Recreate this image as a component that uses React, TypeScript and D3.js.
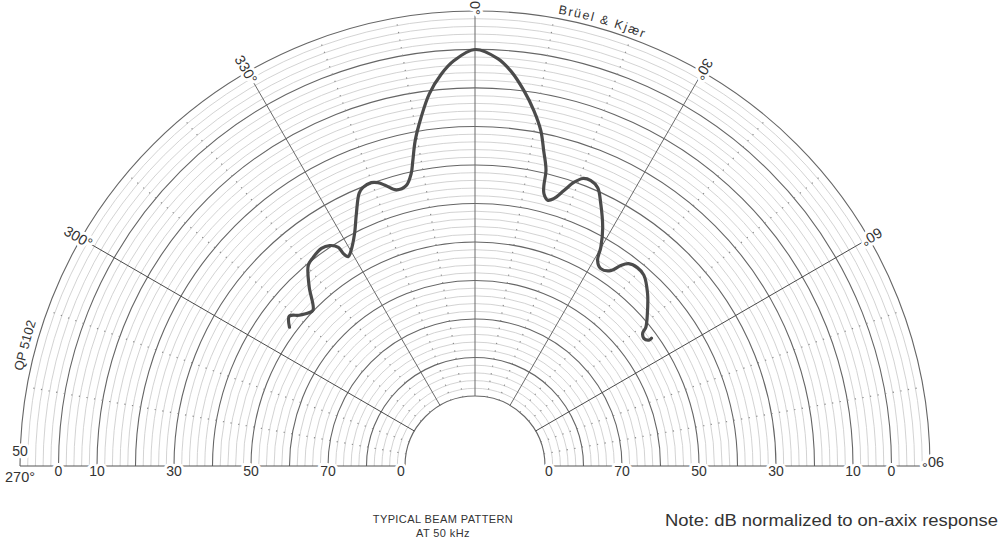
import React, { useEffect, useRef } from "react";
import * as d3 from "d3";

// beam pattern (angle in degrees clockwise from 0°, level in dB re on-axis)
const beamAngles = [
  -53.2, -51.1, -49.4, -47.5, -46.1, -42.8, -39.7, -37.8, -35.2, -33.4,
  -32.0, -31.8, -31.2, -29.9, -27.4, -25.2, -23.0, -21.9, -20.1, -18.9,
  -17.6, -15.9, -13.8, -12.3, -11.5, -10.4, -8.8, -7.0, -4.9, -3.0,
  0, 3.2, 5.2, 7.4, 9.4, 11.1, 12.3, 13.5, 13.8, 14.2,
  15.3, 16.4, 17.9, 19.2, 20.6, 22.1, 23.8, 25.6, 28.2, 29.9,
  30.8, 32.5, 34.8, 36.0, 37.2, 39.3, 41.5, 45.0, 48.5, 50.9,
  51.6, 52.9, 54.1, 54.1,
];
const beamLevels = [
  -24.0, -23.1, -24.0, -24.7, -24.9, -22.4, -20.2, -19.8, -19.5, -19.8,
  -20.6, -21.6, -22.3, -21.8, -20.1, -17.9, -15.6, -15.1, -14.9, -15.2,
  -15.9, -16.8, -16.6, -15.2, -13.6, -11.1, -8.3, -5.4, -3.0, -1.4,
  0, -1.1, -2.6, -4.9, -7.3, -9.7, -12.2, -14.6, -16.6, -17.6,
  -18.3, -17.9, -16.5, -15.1, -14.2, -14.1, -14.6, -16.3, -19.0, -21.3,
  -23.0, -23.7, -23.2, -21.9, -21.1, -20.8, -21.0, -22.4, -24.2, -25.5,
  -26.3, -26.6, -26.2, -25.8,
];

// polar paper
const angleTicks = [-90, -60, -30, 0, 30, 60, 90];
const angleTickLabels = ["270°", "300°", "330°", "0°", "30°", "60°", "90°"];
const scaleLevels = [0, -5, -15, -25, -35, -45];
const scaleLabels = ["0", "10", "30", "50", "70", "0"];
const rangeLabel = "50";

const font = "'Liberation Sans', Arial, Helvetica, sans-serif";

export default function App() {
  const ref = useRef<SVGSVGElement | null>(null);

  useEffect(() => {
    if (!ref.current) return;
    const width = 1000;
    const height = 541;
    const cx = 475;
    const cy = 466;
    const R = 455;
    const r0 = 70;

    const svg = d3.select(ref.current);
    svg.selectAll("*").remove();
    svg.attr("width", width).attr("height", height);

    svg.append("rect").attr("width", width).attr("height", height).attr("fill", "#fff");

    const rScale = d3.scaleLinear().domain([-45, 5]).range([r0, R]);
    const g = svg.append("g").attr("transform", `translate(${cx},${cy})`);

    // concentric half circles, 1 dB minor and 5 dB major
    const ringLevels = d3.range(-45, 5.01, 1);
    const half = (r: number) => {
      const p = d3.path();
      p.moveTo(-r, 0);
      p.arc(0, 0, r, Math.PI, 2 * Math.PI);
      return p.toString();
    };
    g.selectAll(".ring")
      .data(ringLevels)
      .join("path")
      .attr("class", "ring")
      .attr("d", d => half(rScale(d)))
      .attr("fill", "none")
      .attr("stroke", d => ((d + 45) % 5 === 0 ? "#666" : "#c8c8c8"))
      .attr("stroke-width", d => ((d + 45) % 5 === 0 ? 1.1 : 0.8));

    // spokes every 10 degrees, solid every 30
    const spokes = d3.range(-80, 81, 10);
    const rad = (deg: number) => (deg * Math.PI) / 180;
    g.selectAll(".spoke")
      .data(spokes)
      .join("line")
      .attr("class", "spoke")
      .attr("x1", d => r0 * Math.sin(rad(d)))
      .attr("y1", d => -r0 * Math.cos(rad(d)))
      .attr("x2", d => R * Math.sin(rad(d)))
      .attr("y2", d => -R * Math.cos(rad(d)))
      .attr("stroke", d => (d % 30 === 0 ? (Math.abs(d) === 60 ? "#4a4a4a" : "#6a6a6a") : "#8a8a8a"))
      .attr("stroke-width", d => (d % 30 === 0 ? 1 : 1.2))
      .attr("stroke-dasharray", d => (d % 30 === 0 ? null : "1.2 6.5"));

    // diameter line
    [-1, 1].forEach(side => {
      g.append("line")
        .attr("x1", side * r0)
        .attr("x2", side * R)
        .attr("y1", 0)
        .attr("y2", 0)
        .attr("stroke", "#555")
        .attr("stroke-width", 1);
    });

    // beam pattern
    const line = d3
      .lineRadial<number>()
      .angle(i => rad(beamAngles[i]))
      .radius(i => rScale(beamLevels[i]))
      .curve(d3.curveCatmullRom.alpha(0.5));
    g.append("path")
      .attr("d", line(d3.range(beamAngles.length)))
      .attr("fill", "none")
      .attr("stroke", "#4b4b4b")
      .attr("stroke-width", 3.2)
      .attr("stroke-linejoin", "round")
      .attr("stroke-linecap", "round");

    const halo = (sel: d3.Selection<SVGTextElement, any, any, any>) =>
      sel
        .attr("font-family", font)
        .attr("fill", "#333")
        .attr("stroke", "#fff")
        .attr("stroke-width", 6)
        .attr("stroke-linejoin", "round")
        .attr("paint-order", "stroke");

    // angle labels, written along the radius towards the centre
    angleTicks.forEach((a, i) => {
      const rr = R + 3;
      let x = rr * Math.sin(rad(a));
      let y = -rr * Math.cos(rad(a));
      if (a === -90) {
        x = -R + 0;
        y = 11;
      }
      if (a === 90) y = -4;
      g.append("text")
        .attr("transform", `translate(${x},${y}) rotate(${a + 90})`)
        .attr("text-anchor", "middle")
        .attr("dy", "0.35em")
        .attr("font-size", 14.5)
        .text(angleTickLabels[i])
        .call(halo);
    });

    g.append("text")
      .attr("x", -R)
      .attr("y", -10)
      .attr("text-anchor", "middle")
      .attr("font-size", 14)
      .text(rangeLabel)
      .call(halo);

    // scale along the diameter
    [-1, 1].forEach(side => {
      scaleLevels.forEach((lv, i) => {
        const rr = rScale(lv) + (lv === -45 ? 4 : 0);
        g.append("text")
          .attr("x", side * rr)
          .attr("y", 5)
          .attr("text-anchor", "middle")
          .attr("dy", "0.35em")
          .attr("font-size", 14)
          .text(scaleLabels[i])
          .call(halo);
      });
    });

    // maker's name and paper number along the rim
    const rimPath = (id: string, rr: number, a0: number, a1: number) => {
      const p = d3.path();
      p.moveTo(rr * Math.sin(rad(a0)), -rr * Math.cos(rad(a0)));
      p.arc(0, 0, rr, rad(a0 - 90), rad(a1 - 90));
      g.append("path").attr("id", id).attr("d", p.toString()).attr("fill", "none");
      return rr;
    };
    const rb = rimPath("rim-bk", R + 5, 0, 40);
    g.append("text")
      .attr("font-family", font)
      .attr("font-size", 12.5)
      .attr("fill", "#333")
      .attr("letter-spacing", 1.6)
      .append("textPath")
      .attr("href", "#rim-bk")
      .attr("startOffset", rb * rad(16))
      .attr("text-anchor", "middle")
      .text("Brüel & Kjær");

    const rq = rimPath("rim-qp", R + 7, -88, -60);
    g.append("text")
      .attr("font-family", font)
      .attr("font-size", 13)
      .attr("fill", "#333")
      .append("textPath")
      .attr("href", "#rim-qp")
      .attr("startOffset", rq * rad(88 - 75))
      .attr("text-anchor", "middle")
      .text("QP 5102");

    // captions
    svg.append("text")
      .attr("x", 443)
      .attr("y", 523)
      .attr("text-anchor", "middle")
      .attr("font-family", font)
      .attr("font-size", 11)
      .attr("fill", "#333")
      .attr("letter-spacing", 0.4)
      .text("TYPICAL BEAM PATTERN");
    svg.append("text")
      .attr("x", 443)
      .attr("y", 537)
      .attr("text-anchor", "middle")
      .attr("font-family", font)
      .attr("font-size", 11)
      .attr("fill", "#333")
      .attr("letter-spacing", 0.4)
      .text("AT 50 kHz");
    svg.append("text")
      .attr("x", 665)
      .attr("y", 526)
      .attr("font-family", font)
      .attr("font-size", 16)
      .attr("fill", "#333")
      .attr("textLength", 333)
      .attr("lengthAdjust", "spacingAndGlyphs")
      .text("Note: dB normalized to on-axix response");
  }, []);

  return (
    <svg
      ref={ref}
      width={1000}
      height={541}
      style={{ position: "absolute", left: 0, top: 0, display: "block" }}
    />
  );
}
